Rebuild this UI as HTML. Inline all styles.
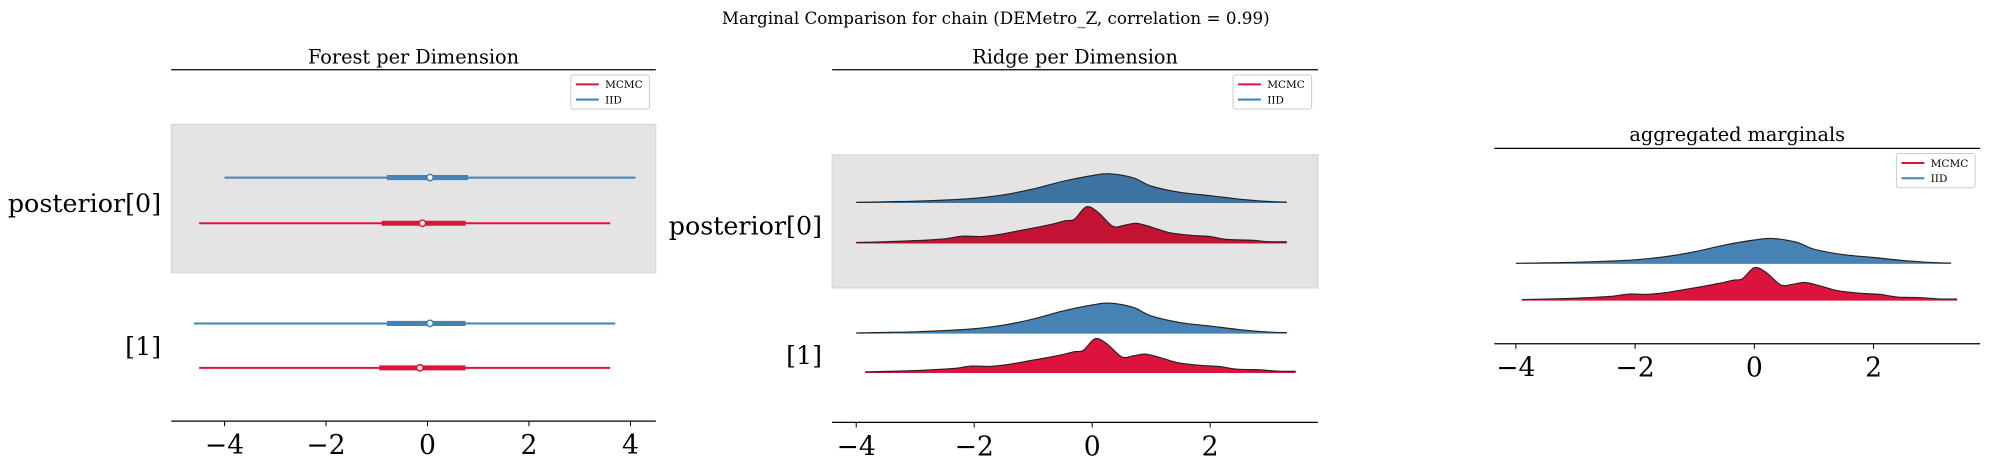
<!DOCTYPE html>
<html><head><meta charset="utf-8">
<style>
html,body{margin:0;padding:0;background:#fff;}
svg{display:block;font-family:"DejaVu Serif","Liberation Serif",serif;}
</style></head>
<body>
<svg id="svgroot" width="1989" height="465" viewBox="0 0 1989 465" xmlns="http://www.w3.org/2000/svg">
<g id="fig" transform="scale(1.2685)">
<text x="785" y="19" font-size="13.2" text-anchor="middle">Marginal Comparison for chain (DEMetro_Z, correlation = 0.99)</text>
</g>
</svg>
<script>
const RED = "#dc143c", BLUE = "#4682b4";
const tickVals = [-4, -2, 0, 2, 4];
const tickLabels = ["\u22124", "\u22122", "0", "2", "4"];
const rowLabels = ["posterior[0]", "[1]"];
// forest intervals: [lo, thickLo, point, thickHi, hi]
const forestIID = [[-4.0, -0.8, 0.05, 0.8, 4.1], [-4.6, -0.8, 0.05, 0.75, 3.7]];
const forestMCMC = [[-4.5, -0.9, -0.1, 0.75, 3.6], [-4.5, -0.95, -0.15, 0.75, 3.6]];
// densities
const iidX = [-4, -3.5, -3, -2.5, -2, -1.5, -1, -0.5, 0, 0.3, 0.7, 1, 1.5, 2, 2.5, 3, 3.3];
const iidY = [0.02, 0.04, 0.06, 0.1, 0.16, 0.28, 0.48, 0.74, 0.94, 1.0, 0.86, 0.58, 0.36, 0.25, 0.13, 0.05, 0.03];
const mcmcX = [-4, -3.5, -3, -2.5, -2.2, -1.9, -1.6, -1.3, -1, -0.7, -0.45, -0.3, -0.1, 0.1, 0.35, 0.55, 0.75, 1.0, 1.3, 1.7, 2.0, 2.3, 2.7, 3.0, 3.3];
const mcmcY = [0.03, 0.05, 0.08, 0.13, 0.2, 0.19, 0.24, 0.33, 0.42, 0.52, 0.62, 0.66, 1.0, 0.85, 0.47, 0.5, 0.55, 0.45, 0.3, 0.22, 0.19, 0.11, 0.09, 0.05, 0.05];

const svg = document.getElementById('fig');
const NS = "http://www.w3.org/2000/svg";
function mk(tag, attrs, parent) {
  const e = document.createElementNS(NS, tag);
  for (const k in attrs) e.setAttribute(k, attrs[k]);
  (parent || svg).appendChild(e);
  return e;
}
function txt(s, attrs) { const t = mk('text', attrs); t.textContent = s; return t; }

function axisFrame(x0, x1, topY, botY, title, titleY, sx, ticks, labels) {
  let e = mk('line', {x1: x0, x2: x1, y1: topY, y2: topY, stroke: '#000', 'stroke-width': 1});
  
  
  e = mk('line', {x1: x0, x2: x1, y1: botY, y2: botY, stroke: '#000', 'stroke-width': 1});
  
  
  e = txt(title, {x: (x0 + x1) / 2, y: titleY, 'font-size': 15.2, 'text-anchor': 'middle'});
  
  
  ticks.forEach((v, i) => {
    const x = sx(v);
    if (x < x0 - 1 || x > x1 + 1) return;
    let t = mk('line', {x1: x, x2: x, y1: botY, y2: botY + 4, stroke: '#000', 'stroke-width': 0.8});
    
    
    t = txt(labels[i], {x: x, y: botY + 26, 'font-size': 21, 'text-anchor': 'middle'});
    
    
  });
}
function legend(x, y) {
  const g = mk('g', {});
  
  
  mk('rect', {x: x, y: y, width: 62, height: 27, rx: 2, fill: '#fff', stroke: '#ccc', 'stroke-width': 0.8}, g);
  [[RED, 'MCMC'], [BLUE, 'IID']].forEach((p, i) => {
    const yy = y + 7.5 + i * 12;
    const l = mk('line', {x1: x + 4, x2: x + 22, y1: yy, y2: yy, stroke: p[0], 'stroke-width': 1.6}, g);
    
    
    const t = mk('text', {x: x + 27, y: yy + 3, 'font-size': 8.3}, g);
    t.textContent = p[1];
    
    
  });
}
function smoothPath(pts) {
  let d = `M${pts[0][0]},${pts[0][1]}`;
  for (let i = 0; i < pts.length - 1; i++) {
    const p0 = pts[Math.max(0, i - 1)], p1 = pts[i], p2 = pts[i + 1], p3 = pts[Math.min(pts.length - 1, i + 2)];
    const c1 = [p1[0] + (p2[0] - p0[0]) / 6, p1[1] + (p2[1] - p0[1]) / 6];
    const c2 = [p2[0] - (p3[0] - p1[0]) / 6, p2[1] - (p3[1] - p1[1]) / 6];
    d += ` C${c1[0]},${c1[1]} ${c2[0]},${c2[1]} ${p2[0]},${p2[1]}`;
  }
  return d;
}
function ridge(xs, ys, sx, base, h, fill, name) {
  const pts = xs.map((v, i) => [sx(v), base - ys[i] * h]);
  const top = smoothPath(pts);
  const area = top + ` L${sx(xs[xs.length - 1])},${base} L${sx(xs[0])},${base} Z`;
  const a = mk('path', {d: area, fill: fill});
  
  
  const l = mk('path', {d: top, fill: 'none', stroke: '#222', 'stroke-width': 0.9});
  
  
}

// ---- Forest panel ----
const fx = v => 337 + v * 40;
let band = mk('rect', {x: 135, y: 98, width: 382, height: 117, fill: '#e4e4e4', stroke: '#d4d4d4', 'stroke-width': 0.8});


axisFrame(135, 517, 55, 332, 'Forest per Dimension', 50, fx, tickVals, tickLabels);
const forestRowY = [[140, 176], [255, 290]];
[0, 1].forEach(r => {
  [[forestIID[r], BLUE, forestRowY[r][0], 'forest-iid'], [forestMCMC[r], RED, forestRowY[r][1], 'forest-mcmc']].forEach(s => {
    const d = s[0], c = s[1], y = s[2];
    let e = mk('line', {x1: fx(d[0]), x2: fx(d[4]), y1: y, y2: y, stroke: c, 'stroke-width': 1.6});
    
    
    e = mk('line', {x1: fx(d[1]), x2: fx(d[3]), y1: y, y2: y, stroke: c, 'stroke-width': 4});
    
    
    e = mk('circle', {cx: fx(d[2]), cy: y, r: 2.5, fill: '#fff', stroke: c, 'stroke-width': 1.2});
    
    
  });
});
let yl = txt(rowLabels[0], {x: 127, y: 167, 'font-size': 20, 'text-anchor': 'end'});


yl = txt(rowLabels[1], {x: 127, y: 280, 'font-size': 20, 'text-anchor': 'end'});


legend(450, 59);

// ---- Ridge panel ----
const rx = v => 861 + v * 46.5;
band = mk('rect', {x: 656, y: 122, width: 383, height: 105, fill: '#e4e4e4', stroke: '#d4d4d4', 'stroke-width': 0.8});


axisFrame(656, 1039, 55, 333, 'Ridge per Dimension', 50, rx, tickVals, tickLabels);
ridge(iidX, iidY, rx, 160, 23, '#3d73a0', 'ridge-iid-row0');
ridge(mcmcX, mcmcY, rx, 192, 29, '#c41235', 'ridge-mcmc-row0');
ridge(iidX, iidY, rx, 263, 24, BLUE, 'ridge-iid-row1');
ridge(mcmcX.map(v => v + 0.15), mcmcY, rx, 294, 27, RED, 'ridge-mcmc-row1');
yl = txt(rowLabels[0], {x: 648, y: 185, 'font-size': 20, 'text-anchor': 'end'});


yl = txt(rowLabels[1], {x: 648, y: 287, 'font-size': 20, 'text-anchor': 'end'});


legend(972, 59);

// ---- Aggregated panel ----
const ax = v => 1383 + v * 47;
axisFrame(1178, 1561, 117, 271, 'aggregated marginals', 111, ax, tickVals, tickLabels);
ridge(iidX, iidY, ax, 208, 20, BLUE, 'agg-iid');
ridge(mcmcX.map(v => v + 0.1), mcmcY, ax, 237, 26, RED, 'agg-mcmc');
legend(1495, 121);
</script>
</body></html>
